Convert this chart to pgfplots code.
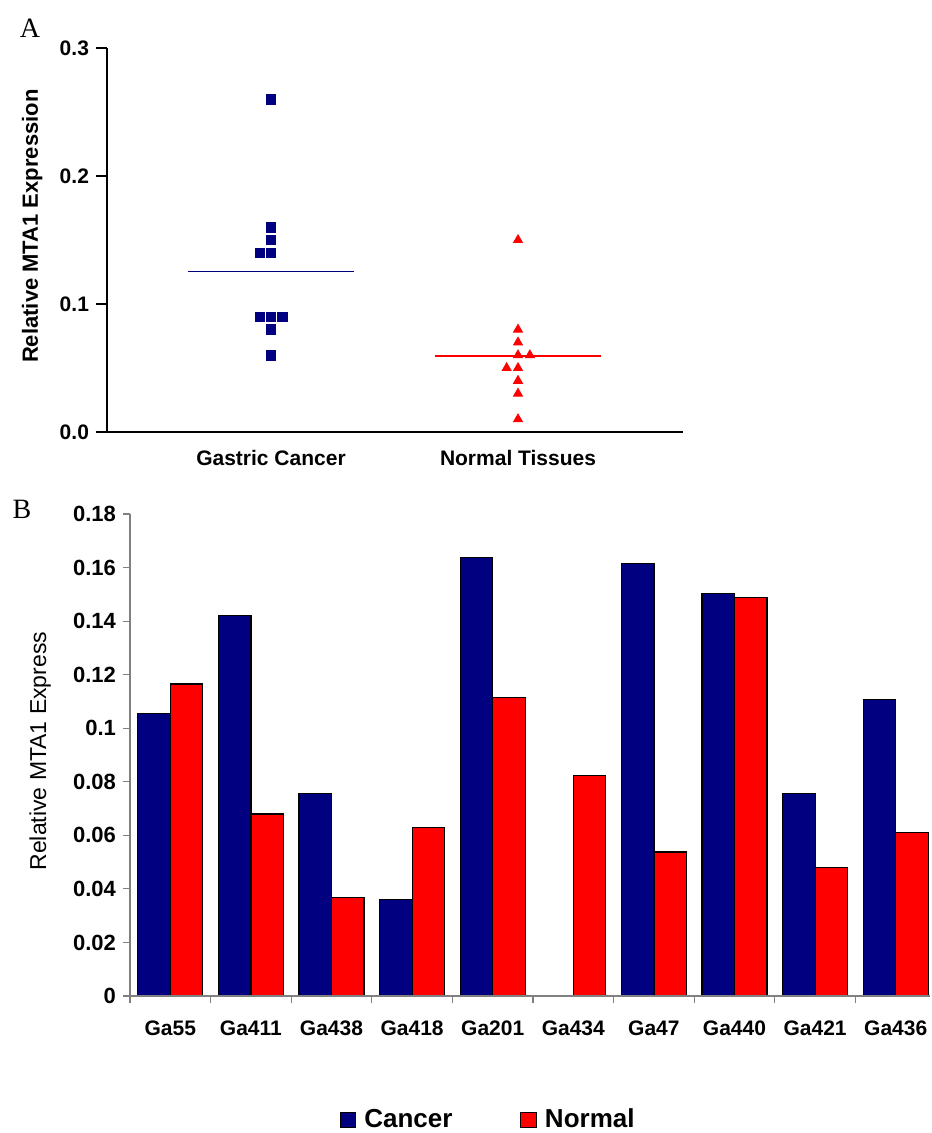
\documentclass[border=0pt]{standalone}
\usepackage{pgfplots}
\usepackage{pgfplotstable}
\pgfplotsset{compat=1.18}
\usepackage{fontspec}
\setmainfont{Liberation Sans}
\newfontfamily\seriffont{Liberation Serif}
\definecolor{navy}{RGB}{0,0,128}
\definecolor{axgray}{RGB}{128,128,128}

\pgfplotstableread{
x y
0 0.26
0 0.16
0 0.15
-0.045 0.14
0 0.14
-0.045 0.09
0 0.09
0.046 0.09
0 0.08
0 0.06
}\dataCancer

\pgfplotstableread{
x y
1 0.15
1 0.08
1 0.07
1 0.06
1.048 0.06
0.954 0.05
1 0.05
1 0.04
1 0.03
1 0.01
}\dataNormal

\pgfplotstableread{
x c n
0 0.1054 0.1165
1 0.1420 0.0680
2 0.0755 0.0367
3 0.0359 0.0628
4 0.1638 0.1114
5 0 0.0822
6 0.1614 0.0538
7 0.1502 0.1487
8 0.0755 0.0479
9 0.1106 0.0612
}\dataB

\begin{document}
\begin{tikzpicture}
\useasboundingbox (0,0) rectangle (465.5pt,566.5pt);
\node[font=\seriffont\fontsize{14}{16}\selectfont] at (15pt,552.5pt) {A};
\node[font=\seriffont\fontsize{14}{16}\selectfont] at (11pt,312pt) {B};

% Panel A
\begin{axis}[
  at={(53.5pt,350.5pt)}, anchor=south west,
  scale only axis, width=288pt, height=192pt,
  xmin=-0.664, xmax=1.668, ymin=0, ymax=0.3,
  axis x line=bottom, axis y line=left,
  axis line style={-, line width=0.9pt, black},
  clip=false,
  xtick={0,1}, xticklabels={Gastric Cancer, Normal Tissues},
  xtick style={draw=none},
  ytick={0,0.1,0.2,0.3},
  ytick style={line width=0.9pt, black},
  major tick length=5.5pt, tick align=outside,
  scaled y ticks=false,
  /pgf/number format/assume math mode=true,
  yticklabel style={/pgf/number format/fixed, /pgf/number format/fixed zerofill, /pgf/number format/precision=1,
    font=\bfseries\fontsize{10.5}{12}\selectfont},
  xticklabel style={font=\bfseries\fontsize{10.5}{12}\selectfont},
  ylabel={Relative MTA1 Expression},
  ylabel style={font=\bfseries\fontsize{11}{13}\selectfont, at={(axis description cs:-0.12,0.536)}, anchor=base, rotate=0},
]
\addplot[only marks, mark=square*, mark size=2.4pt, navy] table[x=x,y=y]{\dataCancer};
\addplot[only marks, mark=triangle*, mark size=2.6pt, red] table[x=x,y=y]{\dataNormal};
\addplot[navy, line width=0.8pt] coordinates {(-0.336,0.1255) (0.336,0.1255)};
\addplot[red, line width=0.8pt] coordinates {(0.664,0.0594) (1.336,0.0594)};
\end{axis}

% Panel B
\begin{axis}[
  at={(65pt,68.5pt)}, anchor=south west,
  scale only axis, width=400pt, height=241pt,
  xmin=-0.5, xmax=9.4256, ymin=0, ymax=0.18,
  axis x line=bottom, axis y line=left,
  axis line style={-, line width=0.6pt, axgray},
  axis on top,
  clip=false,
  ybar=0pt, bar width=16.25pt,
  xtick={-0.5,0.5,...,8.5}, xticklabels={},
  extra x ticks={0,1,2,3,4,5,6,7,8,9},
  extra x tick labels={Ga55,Ga411,Ga438,Ga418,Ga201,Ga434,Ga47,Ga440,Ga421,Ga436},
  extra x tick style={tick style={draw=none}},
  ytick={0,0.02,0.04,0.06,0.08,0.1,0.12,0.14,0.16,0.18},
  tick style={line width=0.6pt, axgray},
  major tick length=3.5pt, tick align=outside,
  scaled y ticks=false,
  /pgf/number format/assume math mode=true,
  yticklabel style={/pgf/number format/fixed, /pgf/number format/precision=2,
    font=\bfseries\fontsize{11}{13}\selectfont},
  xticklabel style={font=\bfseries\fontsize{10.5}{12}\selectfont, yshift=-5.5pt},
  ylabel={Relative MTA1 Express},
  ylabel style={font=\fontsize{11.5}{13}\selectfont, at={(axis description cs:-0.105,0.508)}, anchor=base, rotate=0},
  legend style={draw=none, at={(0.449,-0.257)}, anchor=center, legend columns=2,
    font=\bfseries\fontsize{13}{15}\selectfont,
    /tikz/every even column/.append style={column sep=32pt}},
]
\addplot[fill=navy, draw=black, line width=0.6pt,
  legend image code/.code={\draw[fill=navy,draw=black,line width=0.5pt] (0pt,-3.75pt) rectangle (7.5pt,3.75pt); \path[draw=none,fill=none] (7.5pt,-0.1pt) rectangle (10pt,0.1pt);}]
  table[x=x,y=c]{\dataB};
\addlegendentry{Cancer}
\addplot[fill=red, draw=black, line width=0.6pt,
  legend image code/.code={\draw[fill=red,draw=black,line width=0.5pt] (0pt,-3.75pt) rectangle (7.5pt,3.75pt); \path[draw=none,fill=none] (7.5pt,-0.1pt) rectangle (10pt,0.1pt);}]
  table[x=x,y=n]{\dataB};
\addlegendentry{Normal}
\end{axis}
\end{tikzpicture}
\end{document}
